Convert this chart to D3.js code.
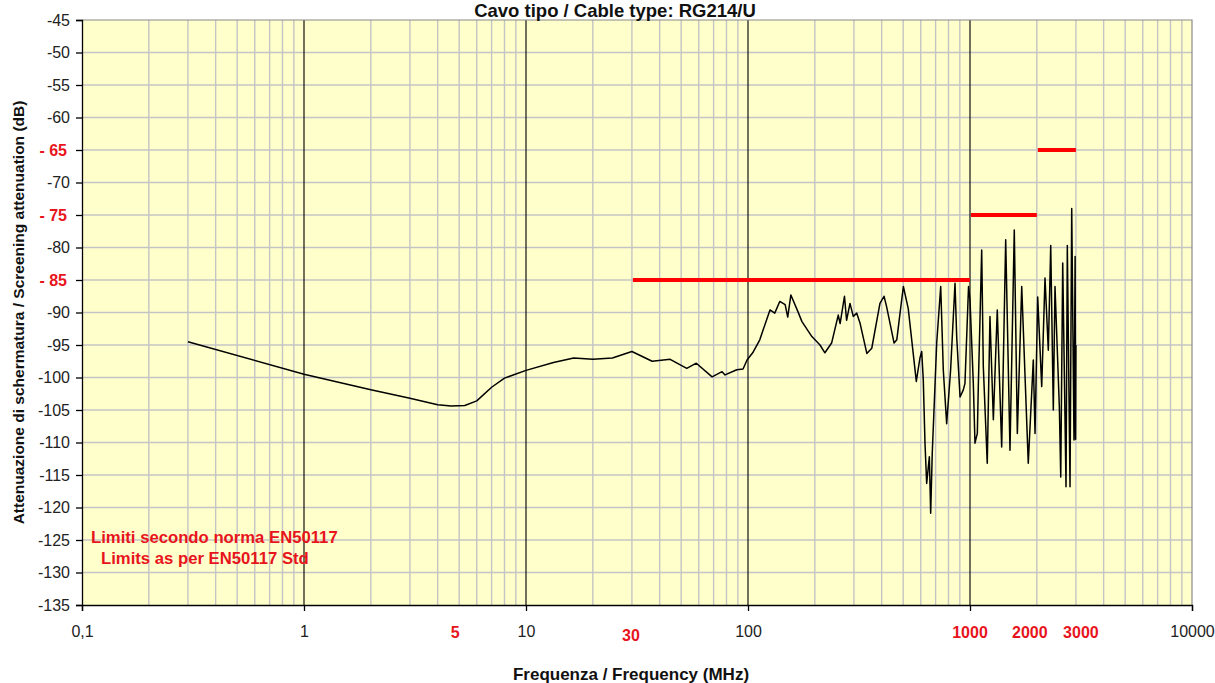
<!DOCTYPE html>
<html>
<head>
<meta charset="utf-8">
<script src="https://cdn.jsdelivr.net/npm/d3@7"></script>
<style>
  body { margin: 0; background: #fff; }
  text { font-family: "Liberation Sans", Arial, sans-serif; }
</style>
</head>
<body>
<script>
// frequency (MHz) and screening attenuation (dB)
const freqs = [0.3, 1, 2, 3, 4, 4.6, 5.3, 6, 7, 8, 10, 13.3, 16.4, 20, 24.5, 30, 37, 44.6, 53, 58.5, 68.9,
  76.4, 78.8, 89, 95, 99, 105, 113, 125.6, 132, 139, 147, 151, 156, 168, 175, 194, 211, 222, 238,
  255, 260, 272, 278, 288, 298, 309, 320, 343, 361, 393, 410, 421, 455, 468, 484, 501, 527, 573,
  595, 606, 616, 627, 638, 656, 665, 676, 708, 738, 758, 785, 818, 856, 871, 902, 933, 949, 985,
  1000, 1035, 1053, 1079, 1090, 1129, 1148, 1196, 1230, 1274, 1327, 1389, 1448, 1514, 1583, 1634,
  1710, 1830, 1928, 1963, 2018, 2104, 2177, 2253, 2310, 2373, 2415, 2526, 2563, 2616, 2707, 2744,
  2822, 2872, 2941, 2975, 2990, 3000];
const atten = [-94.5, -99.5, -101.9, -103.2, -104.2, -104.4, -104.3, -103.6, -101.5, -100.1, -98.9, -97.7,
  -97.0, -97.2, -97.0, -96.0, -97.5, -97.2, -98.6, -97.8, -99.9, -99.1, -99.6, -98.8, -98.7, -97.3,
  -96.2, -94.2, -89.6, -90.1, -88.3, -88.8, -90.7, -87.3, -89.9, -91.4, -93.7, -95.0, -96.2, -94.7,
  -90.4, -91.7, -87.5, -91.2, -88.6, -90.6, -90.1, -91.7, -96.3, -95.5, -88.6, -87.5, -89.1, -94.7,
  -94.2, -90.1, -86.0, -89.4, -100.6, -97.0, -96.0, -100.4, -110.1, -116.3, -112.2, -120.9, -111.7,
  -94.7, -86.0, -98.8, -107.1, -98.8, -85.5, -93.7, -103.0, -101.9, -100.9, -86.0,
  -88.1, -100.9, -110.1, -108.6, -101.4, -80.4, -98.3, -113.2, -90.6, -106.5, -89.6, -110.7, -78.8,
  -111.2, -77.3, -108.6, -86.0, -113.2, -97.3, -108.6, -87.6, -101.4, -84.7, -95.8, -79.7, -105.0,
  -86.0, -104.5, -115.3, -82.4, -116.8, -79.7, -116.8, -74.0, -109.6, -81.4, -109.5, -95.0];

// EN50117 limits
const limitFrom = [30, 1000, 2000];
const limitTo = [1000, 2000, 3000];
const limitLevel = [-85, -75, -65];

const yTicks = d3.range(-135, -44, 5);
const yRedTicks = [-65, -75, -85];
const xTicks = [0.1, 1, 10, 100, 1000, 10000];
const xTickLabels = ["0,1", "1", "10", "100", "", "10000"];
const xRedTicks = [5, 30, 1000, 2000, 3000];
const majorLines = [1, 10, 100, 1000];

const width = 1215, height = 683;
const plotLeft = 82, plotRight = 1192, plotTop = 20, plotBottom = 605;
const red = "#ff0000";
const redText = "#e8141c";
const redNudge = {5: [-4, 0], 30: [-1, 3], 1000: [0, 0], 2000: [-7, 0], 3000: [5, 0]};

const svg = d3.select("body").append("svg")
  .attr("width", width)
  .attr("height", height);

const x = d3.scaleLog().domain([0.1, 10000]).range([plotLeft, plotRight]);
const y = d3.scaleLinear().domain([-135, -45]).range([plotBottom, plotTop]);

// plot background
svg.append("rect")
  .attr("x", plotLeft).attr("y", plotTop)
  .attr("width", plotRight - plotLeft).attr("height", plotBottom - plotTop)
  .attr("fill", "#ffffcc");

// grid
svg.append("g").selectAll("line")
  .data(yTicks.filter(d => d > -135 && d < -45))
  .enter().append("line")
  .attr("x1", plotLeft).attr("x2", plotRight)
  .attr("y1", d => y(d)).attr("y2", d => y(d))
  .attr("stroke", "#c4c4c4").attr("stroke-width", 1.4);

svg.append("g").selectAll("line")
  .data(x.ticks().filter(d => !xTicks.includes(d)))
  .enter().append("line")
  .attr("x1", d => x(d)).attr("x2", d => x(d))
  .attr("y1", plotTop).attr("y2", plotBottom)
  .attr("stroke", "#c4c4c4").attr("stroke-width", 1.4);

svg.append("g").selectAll("line")
  .data(majorLines)
  .enter().append("line")
  .attr("x1", d => x(d)).attr("x2", d => x(d))
  .attr("y1", plotTop).attr("y2", plotBottom)
  .attr("stroke", "#111").attr("stroke-width", 1.2);

// top / right frame
svg.append("path")
  .attr("d", `M${plotLeft},${plotTop}H${plotRight}V${plotBottom}`)
  .attr("fill", "none").attr("stroke", "#8a8a8a").attr("stroke-width", 1.2);

// limit lines
svg.append("g").selectAll("line")
  .data(limitLevel)
  .enter().append("line")
  .attr("x1", (d, i) => x(limitFrom[i]) + 1)
  .attr("x2", (d, i) => x(limitTo[i]))
  .attr("y1", d => y(d)).attr("y2", d => y(d))
  .attr("stroke", red).attr("stroke-width", 4);

// measured curve
const line = d3.line()
  .x(d => x(d[0]))
  .y(d => y(d[1]));

svg.append("path")
  .datum(freqs.map((f, i) => [f, atten[i]]))
  .attr("d", line)
  .attr("fill", "none")
  .attr("stroke", "#000")
  .attr("stroke-width", 1.5)
  .attr("stroke-linejoin", "round");

// axes
const yAxis = svg.append("g")
  .attr("transform", `translate(${plotLeft},0)`)
  .call(d3.axisLeft(y).tickValues(yTicks).tickSize(6).tickPadding(6)
    .tickFormat(d => yRedTicks.includes(d) ? "- " + Math.abs(d) : d));
yAxis.selectAll("text")
  .attr("font-size", "16px")
  .attr("font-family", "Liberation Sans, Arial, sans-serif")
  .attr("fill", d => yRedTicks.includes(d) ? redText : "#222")
  .attr("font-weight", d => yRedTicks.includes(d) ? "bold" : "normal")
  .attr("dx", d => yRedTicks.includes(d) ? -3 : 0);
yAxis.selectAll("line, path").attr("stroke", "#000").attr("stroke-width", 1.3);

const xAxis = svg.append("g")
  .attr("transform", `translate(0,${plotBottom})`)
  .call(d3.axisBottom(x).tickValues(xTicks).tickSize(6).tickPadding(15)
    .tickFormat((d, i) => xTickLabels[i]));
xAxis.selectAll("text")
  .attr("font-size", "16px")
  .attr("font-family", "Liberation Sans, Arial, sans-serif")
  .attr("fill", "#222");
xAxis.selectAll("line, path").attr("stroke", "#000").attr("stroke-width", 1.3);

// red frequency labels
svg.append("g").selectAll("text")
  .data(xRedTicks)
  .enter().append("text")
  .attr("x", d => x(d) + redNudge[d][0])
  .attr("y", d => 638 + redNudge[d][1])
  .attr("text-anchor", "middle")
  .attr("font-size", "16px")
  .attr("font-weight", "bold")
  .attr("fill", redText)
  .text(d => d);

// titles
svg.append("text")
  .attr("x", 615).attr("y", 17)
  .attr("text-anchor", "middle")
  .attr("font-size", "18.5px").attr("font-weight", "bold")
  .attr("fill", "#111")
  .text("Cavo tipo / Cable type: RG214/U");

svg.append("text")
  .attr("x", 631).attr("y", 680)
  .attr("text-anchor", "middle")
  .attr("font-size", "17px").attr("font-weight", "bold")
  .attr("fill", "#111")
  .text("Frequenza / Frequency (MHz)");

svg.append("text")
  .attr("transform", `translate(24,${(plotTop + plotBottom) / 2}) rotate(-90)`)
  .attr("text-anchor", "middle")
  .attr("font-size", "15.5px").attr("font-weight", "bold")
  .attr("fill", "#111")
  .text("Attenuazione di schermatura / Screening attenuation (dB)");

// limits note
svg.append("text")
  .attr("x", 91).attr("y", 543)
  .attr("font-size", "16.7px").attr("font-weight", "bold")
  .attr("fill", redText)
  .text("Limiti secondo norma EN50117");
svg.append("text")
  .attr("x", 101).attr("y", 564)
  .attr("font-size", "16.7px").attr("font-weight", "bold")
  .attr("fill", redText)
  .text("Limits as per EN50117 Std");
</script>
</body>
</html>
